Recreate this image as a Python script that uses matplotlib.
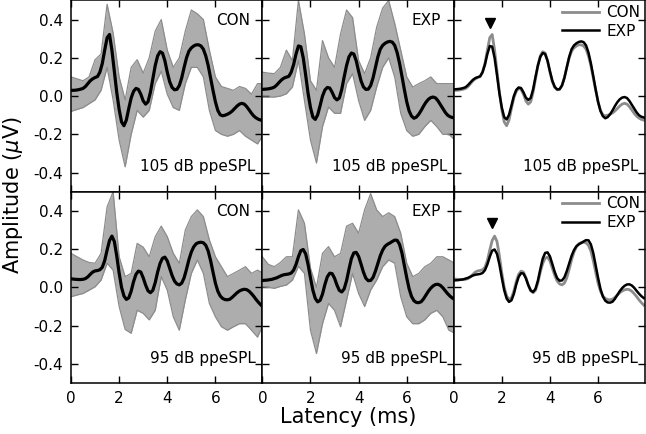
import numpy as np
import matplotlib
matplotlib.use("Agg")
import matplotlib.pyplot as plt

plt.rcParams["font.family"] = ["DejaVu Sans"]
plt.rcParams["axes.unicode_minus"] = False

# latency grid (ms) for the grand-average traces
latency = [0.0, 0.1, 0.2, 0.3, 0.4, 0.5, 0.6, 0.7, 0.8, 0.9,
           1.0, 1.1, 1.2, 1.3, 1.4, 1.5, 1.6, 1.7, 1.8, 1.9,
           2.0, 2.1, 2.2, 2.3, 2.4, 2.5, 2.6, 2.7, 2.8, 2.9,
           3.0, 3.1, 3.2, 3.3, 3.4, 3.5, 3.6, 3.7, 3.8, 3.9,
           4.0, 4.1, 4.2, 4.3, 4.4, 4.5, 4.6, 4.7, 4.8, 4.9,
           5.0, 5.1, 5.2, 5.3, 5.4, 5.5, 5.6, 5.7, 5.8, 5.9,
           6.0, 6.1, 6.2, 6.3, 6.4, 6.5, 6.6, 6.7, 6.8, 6.9,
           7.0, 7.1, 7.2, 7.3, 7.4, 7.5, 7.6, 7.7, 7.8, 7.9]

# grand averages (uV)
con_105 = [0.030, 0.030, 0.031, 0.033, 0.036, 0.040, 0.050, 0.065, 0.080, 0.090,
           0.097, 0.102, 0.125, 0.170, 0.240, 0.305, 0.322, 0.240, 0.130, 0.020,
           -0.070, -0.135, -0.155, -0.125, -0.065, -0.010, 0.025, 0.040, 0.035, 0.010,
           -0.025, -0.042, -0.030, 0.020, 0.090, 0.160, 0.210, 0.232, 0.225, 0.185,
           0.125, 0.075, 0.045, 0.033, 0.035, 0.055, 0.095, 0.150, 0.200, 0.235,
           0.252, 0.262, 0.268, 0.268, 0.262, 0.245, 0.210, 0.160, 0.095, 0.030,
           -0.030, -0.075, -0.098, -0.103, -0.100, -0.095, -0.088, -0.078, -0.065, -0.052,
           -0.042, -0.038, -0.042, -0.055, -0.072, -0.090, -0.105, -0.115, -0.122, -0.126]
exp_105 = [0.035, 0.036, 0.037, 0.039, 0.042, 0.047, 0.058, 0.072, 0.085, 0.094,
           0.099, 0.103, 0.125, 0.165, 0.220, 0.262, 0.258, 0.200, 0.110, 0.015,
           -0.060, -0.110, -0.122, -0.098, -0.050, 0.000, 0.032, 0.045, 0.042, 0.020,
           -0.008, -0.020, -0.010, 0.035, 0.100, 0.160, 0.205, 0.225, 0.220, 0.185,
           0.130, 0.080, 0.048, 0.035, 0.036, 0.055, 0.095, 0.150, 0.205, 0.245,
           0.265, 0.276, 0.283, 0.286, 0.282, 0.265, 0.228, 0.172, 0.105, 0.035,
           -0.030, -0.078, -0.105, -0.116, -0.110, -0.095, -0.075, -0.052, -0.032, -0.017,
           -0.008, -0.005, -0.010, -0.025, -0.045, -0.065, -0.085, -0.100, -0.108, -0.112]
con_95 = [0.045, 0.043, 0.042, 0.041, 0.041, 0.042, 0.046, 0.055, 0.068, 0.080,
          0.086, 0.088, 0.092, 0.105, 0.140, 0.195, 0.245, 0.268, 0.240, 0.165,
          0.075, 0.000, -0.045, -0.063, -0.055, -0.020, 0.030, 0.068, 0.085, 0.080,
          0.050, 0.012, -0.018, -0.028, -0.015, 0.025, 0.080, 0.125, 0.152, 0.158,
          0.138, 0.100, 0.062, 0.033, 0.018, 0.013, 0.022, 0.050, 0.095, 0.145,
          0.185, 0.212, 0.228, 0.234, 0.236, 0.233, 0.220, 0.190, 0.140, 0.080,
          0.022, -0.020, -0.045, -0.058, -0.064, -0.065, -0.062, -0.052, -0.040, -0.028,
          -0.019, -0.013, -0.010, -0.012, -0.020, -0.033, -0.048, -0.065, -0.080, -0.093]
exp_95 = [0.036, 0.037, 0.038, 0.040, 0.042, 0.046, 0.050, 0.056, 0.062, 0.066,
          0.068, 0.070, 0.075, 0.090, 0.120, 0.160, 0.192, 0.198, 0.175, 0.120,
          0.050, -0.015, -0.058, -0.076, -0.068, -0.035, 0.015, 0.055, 0.074, 0.072,
          0.048, 0.012, -0.016, -0.024, -0.008, 0.035, 0.095, 0.150, 0.180, 0.183,
          0.162, 0.122, 0.080, 0.048, 0.035, 0.036, 0.052, 0.085, 0.125, 0.165,
          0.195, 0.215, 0.225, 0.232, 0.240, 0.247, 0.246, 0.225, 0.180, 0.115,
          0.050, -0.008, -0.048, -0.070, -0.079, -0.080, -0.075, -0.060, -0.040, -0.020,
          -0.004, 0.008, 0.015, 0.016, 0.010, -0.002, -0.018, -0.033, -0.046, -0.056]

# spread of individual traces, read at a coarser grid
latency_env = [0.0, 0.25, 0.5, 0.75, 1.0, 1.25, 1.5, 1.75, 2.0, 2.25, 2.5,
               2.75, 3.0, 3.25, 3.5, 3.75, 4.0, 4.25, 4.5, 4.75, 5.0, 5.25,
               5.5, 5.75, 6.0, 6.25, 6.5, 6.75, 7.0, 7.25, 7.5, 7.75, 8.0]
con_105_hi = [0.10, 0.09, 0.08, 0.10, 0.19, 0.22, 0.48, 0.33, 0.10, -0.02, 0.15,
              0.19, 0.12, 0.20, 0.34, 0.40, 0.24, 0.15, 0.20, 0.34, 0.45, 0.43,
              0.40, 0.24, 0.10, 0.05, 0.04, 0.03, 0.05, 0.04, 0.01, 0.065, 0.065]
con_105_lo = [-0.08, -0.07, -0.06, -0.04, -0.02, 0.03, 0.15, -0.02, -0.23, -0.37, -0.20,
              -0.075, -0.11, -0.075, 0.065, 0.13, 0.01, -0.06, -0.075, 0.065, 0.15, 0.15,
              0.10, -0.075, -0.18, -0.20, -0.21, -0.20, -0.18, -0.21, -0.23, -0.25, -0.20]
exp_105_hi = [0.125, 0.12, 0.117, 0.15, 0.24, 0.186, 0.50, 0.325, 0.08, 0.03, 0.29,
              0.20, 0.15, 0.325, 0.45, 0.41, 0.186, 0.117, 0.20, 0.36, 0.46, 0.50,
              0.38, 0.24, 0.10, 0.047, 0.065, 0.08, 0.10, 0.065, 0.065, 0.065, 0.065]
exp_105_lo = [-0.005, -0.005, -0.005, 0.0, 0.012, 0.047, 0.186, -0.023, -0.23, -0.35, -0.16,
              -0.057, -0.09, -0.09, 0.065, 0.117, -0.023, -0.127, -0.075, 0.047, 0.15, 0.20,
              0.10, -0.09, -0.18, -0.21, -0.20, -0.16, -0.127, -0.16, -0.20, -0.20, -0.23]
con_95_hi = [0.178, 0.16, 0.143, 0.13, 0.126, 0.178, 0.42, 0.50, 0.16, 0.056, 0.073,
             0.23, 0.21, 0.16, 0.265, 0.32, 0.265, 0.178, 0.126, 0.30, 0.37, 0.405,
             0.37, 0.248, 0.16, 0.108, 0.056, 0.073, 0.09, 0.108, 0.073, 0.09, 0.073]
con_95_lo = [-0.049, -0.04, -0.032, -0.015, 0.003, 0.038, 0.126, 0.09, -0.10, -0.22, -0.24,
             -0.12, -0.136, -0.17, -0.12, 0.056, -0.014, -0.154, -0.224, -0.066, 0.073, 0.143,
             0.073, -0.084, -0.154, -0.206, -0.224, -0.206, -0.19, -0.19, -0.224, -0.26, -0.19]
exp_95_hi = [0.16, 0.12, 0.108, 0.13, 0.16, 0.16, 0.405, 0.335, 0.10, 0.0, 0.178,
             0.213, 0.16, 0.178, 0.32, 0.335, 0.283, 0.405, 0.49, 0.405, 0.37, 0.39,
             0.37, 0.283, 0.126, 0.056, 0.073, 0.108, 0.126, 0.16, 0.16, 0.143, 0.126]
exp_95_lo = [0.003, 0.0, -0.005, 0.005, 0.012, 0.038, 0.11, 0.073, -0.224, -0.346, -0.19,
             -0.084, -0.12, -0.206, -0.066, 0.073, -0.032, -0.10, -0.014, 0.038, 0.108, 0.143,
             0.126, -0.049, -0.154, -0.19, -0.19, -0.17, -0.136, -0.12, -0.154, -0.224, -0.24]

levels = ["105 dB ppeSPL", "95 dB ppeSPL"]
# wave I marker (latency, amplitude) for the overlay panels
marker_pos = [(1.5, 0.38), (1.6, 0.336)]

means = [(con_105, exp_105), (con_95, exp_95)]
spreads = [((con_105_lo, con_105_hi), (exp_105_lo, exp_105_hi)),
           ((con_95_lo, con_95_hi), (exp_95_lo, exp_95_hi))]

gray = "#8c8c8c"

fig, axes = plt.subplots(2, 3, figsize=(6.46, 4.34), dpi=100, sharex=True, sharey=True)
fig.subplots_adjust(left=71/646, right=645/646, top=0.999, bottom=51/434,
                    wspace=0, hspace=0)

for r in range(2):
    for c, group in enumerate(["CON", "EXP"]):
        ax = axes[r, c]
        lo, hi = spreads[r][c]
        ax.fill_between(latency_env, lo, hi, color="#adadad", lw=0)
        ax.plot(latency_env, hi, color=gray, lw=0.9)
        ax.plot(latency_env, lo, color=gray, lw=0.9)
        ax.plot(latency, means[r][c], color="black", lw=2.3)
        ax.text(0.935, 0.895, group, transform=ax.transAxes, ha="right", va="center",
                fontsize=11)
        ax.text(0.965, 0.13, levels[r], transform=ax.transAxes, ha="right", va="center",
                fontsize=11)
    ax = axes[r, 2]
    ax.plot(latency, means[r][0], color=gray, lw=2.0, label="CON")
    ax.plot(latency, means[r][1], color="black", lw=1.8, label="EXP")
    ax.plot(*marker_pos[r], marker="v", color="black", ms=7, ls="none")
    ax.text(0.965, 0.13, levels[r], transform=ax.transAxes, ha="right", va="center",
            fontsize=11)
    ax.legend(loc="upper right", frameon=False, fontsize=11, handlelength=2.4,
              handletextpad=0.5, labelspacing=0.25, borderpad=0.1, borderaxespad=0.2)

for ax in axes.flat:
    ax.set_xlim(0, 7.95)
    ax.set_ylim(-0.5, 0.5)
    ax.set_xticks([0, 2, 4, 6])
    ax.set_yticks([-0.4, -0.2, 0.0, 0.2, 0.4])
    ax.tick_params(direction="in", top=True, right=True, length=5, width=1,
                   labelsize=11, pad=6)
    for s in ax.spines.values():
        s.set_linewidth(1.1)

axes[0, 0].yaxis.set_major_formatter(matplotlib.ticker.FormatStrFormatter("%.1f"))

fig.text(0.02, 0.55, "Amplitude ($\\mu$V)", rotation=90, ha="center", va="center",
         fontsize=15)
fig.text(348/646, 0.04, "Latency (ms)", ha="center", va="center", fontsize=15)

fig.savefig("out.png", dpi=100)
